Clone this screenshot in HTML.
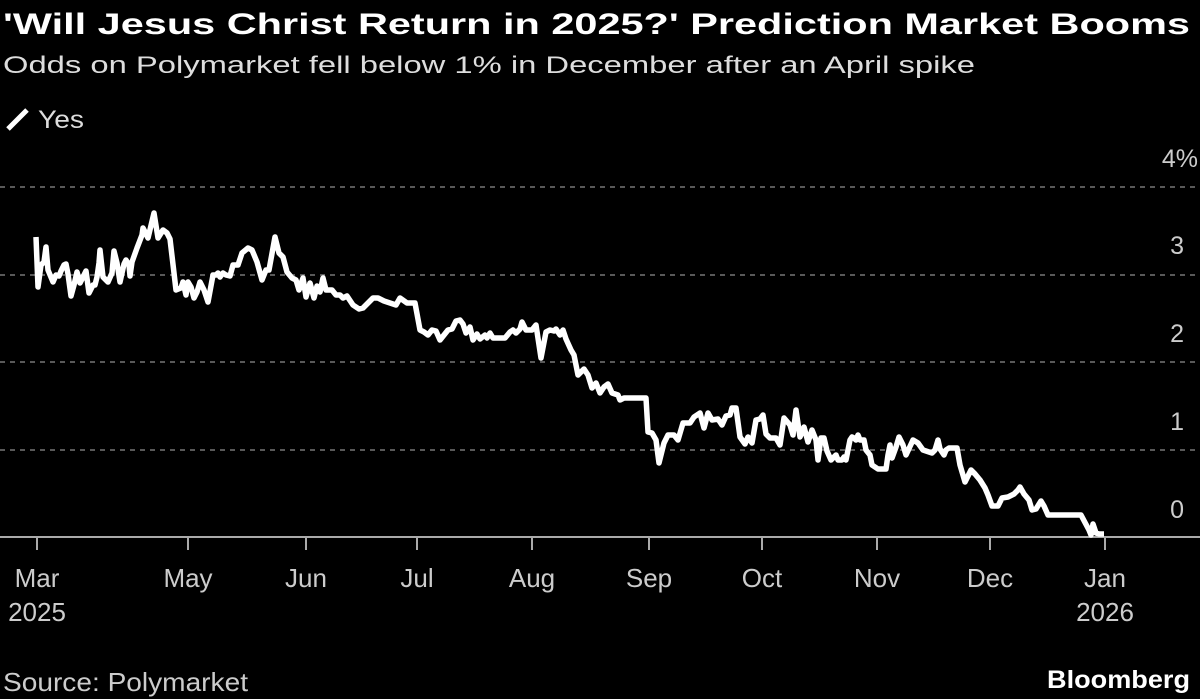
<!DOCTYPE html>
<html><head><meta charset="utf-8"><style>body{margin:0;background:#000;}svg{display:block}</style></head>
<body>
<svg width="1200" height="699" viewBox="0 0 1200 699" xmlns="http://www.w3.org/2000/svg" font-family="Liberation Sans, sans-serif" fill="#fff">
<rect width="1200" height="699" fill="#000"/>
<text x="3" y="34" font-size="30" font-weight="bold" textLength="1187" lengthAdjust="spacingAndGlyphs">'Will Jesus Christ Return in 2025?' Prediction Market Booms</text>
<text x="3" y="73" font-size="24" fill="#ddd" textLength="972" lengthAdjust="spacingAndGlyphs">Odds on Polymarket fell below 1% in December after an April spike</text>
<line x1="8" y1="129" x2="27" y2="110" stroke="#fff" stroke-width="5"/>
<text x="38" y="128" font-size="25" fill="#ddd" textLength="46" lengthAdjust="spacingAndGlyphs">Yes</text>
<g stroke="#777" stroke-width="1.5" stroke-dasharray="5,5">
<line x1="0" y1="187" x2="1200" y2="187"/><line x1="0" y1="275" x2="1200" y2="275"/><line x1="0" y1="362" x2="1200" y2="362"/><line x1="0" y1="450" x2="1200" y2="450"/>
</g>
<g font-size="25" fill="#ccc" text-anchor="end">
<text x="1198" y="167">4%</text><text x="1184" y="254">3</text><text x="1184" y="342">2</text><text x="1184" y="430">1</text><text x="1184" y="518">0</text>
</g>
<line x1="0" y1="537" x2="1200" y2="537" stroke="#aaa" stroke-width="2"/>
<g stroke="#aaa" stroke-width="2">
<line x1="37" y1="537" x2="37" y2="550"/><line x1="188" y1="537" x2="188" y2="550"/><line x1="306" y1="537" x2="306" y2="550"/><line x1="417" y1="537" x2="417" y2="550"/><line x1="532" y1="537" x2="532" y2="550"/><line x1="649" y1="537" x2="649" y2="550"/><line x1="762" y1="537" x2="762" y2="550"/><line x1="877" y1="537" x2="877" y2="550"/><line x1="990" y1="537" x2="990" y2="550"/><line x1="1105" y1="537" x2="1105" y2="550"/>
</g>
<g font-size="26" fill="#ccc" text-anchor="middle">
<text x="37" y="587">Mar</text><text x="188" y="587">May</text><text x="306" y="587">Jun</text><text x="417" y="587">Jul</text><text x="532" y="587">Aug</text><text x="649" y="587">Sep</text><text x="762" y="587">Oct</text><text x="877" y="587">Nov</text><text x="990" y="587">Dec</text><text x="1105" y="587">Jan</text>
<text x="37" y="621">2025</text><text x="1105" y="621">2026</text>
</g>
<text x="3" y="691" font-size="26" fill="#ccc" textLength="245" lengthAdjust="spacingAndGlyphs">Source: Polymarket</text>
<text x="1190" y="688" font-size="25" font-weight="bold" text-anchor="end" textLength="143" lengthAdjust="spacingAndGlyphs">Bloomberg</text>
<polyline fill="none" stroke="#fff" stroke-width="5.5" stroke-linejoin="round" points="36,237 38,287 41,265 44,262 46,247 48,270 53,282 56,275 59,276 61,271 64,265 66,264 68,274 71,296 74,285 77,272 80,283 83,277 86,271 89,293 93,285 95,285 97,277 99,263 100,250 103,277 108,282 112,273 114,251 117,263 120,282 124,264 126,260 129,265 130,276 132,262 137,248 142,235 143,228 148,238 154,213 158,238 163,230 167,233 170,239 176,290 181,288 183,282 186,295 188,282 191,287 194,298 197,292 200,282 204,290 208,302 213,275 216,275 218,273 220,277 223,273 226,275 230,276 233,265 238,265 242,253 248,248 252,250 257,262 262,280 266,270 269,270 275,237 279,253 283,257 287,272 292,278 296,280 299,290 303,278 306,297 310,283 314,298 317,286 320,292 323,278 326,290 332,290 336,295 340,295 343,298 347,296 353,305 359,309 363,308 373,298 378,298 384,301 390,303 396,305 400,298 407,303 415,303 420,330 424,332 428,335 432,330 436,331 440,340 448,330 452,329 456,321 460,320 463,324 466,333 470,327 473,340 477,334 480,339 485,335 487,338 490,333 493,338 505,338 510,332 513,330 516,333 520,329 522,322 526,330 532,330 536,325 541,358 546,332 550,330 554,331 556,329 560,335 563,330 566,339 571,350 574,355 578,375 584,369 588,375 592,388 596,383 600,393 604,387 608,384 612,393 618,395 620,400 624,398 646,398 648,432 652,433 656,440 659,463 664,443 668,435 674,435 678,440 683,423 690,423 694,417 697,415 700,413 704,428 708,413 712,420 718,419 722,425 726,416 730,415 732,408 736,408 740,437 745,444 748,437 752,443 756,420 760,419 763,415 766,434 770,438 776,438 780,445 784,418 790,425 793,435 796,410 800,437 804,427 808,442 812,430 816,440 818,460 821,438 824,438 827,451 831,460 836,455 838,460 842,460 844,457 846,460 850,440 852,437 854,438 856,440 858,435 860,440 864,440 866,450 870,455 872,465 878,469 886,469 888,455 890,445 892,458 896,447 899,437 903,445 906,455 913,440 918,443 923,450 932,453 935,450 938,440 940,449 944,455 946,450 949,448 957,448 960,465 965,482 971,470 975,474 980,480 985,488 988,495 992,506 998,506 1002,498 1008,497 1014,494 1018,490 1020,487 1024,494 1029,500 1032,510 1036,509 1041,501 1044,506 1048,515 1081,515 1089,530 1091,535 1093,524 1096,533 1099,534 1104,534"/>
</svg>
</body></html>
